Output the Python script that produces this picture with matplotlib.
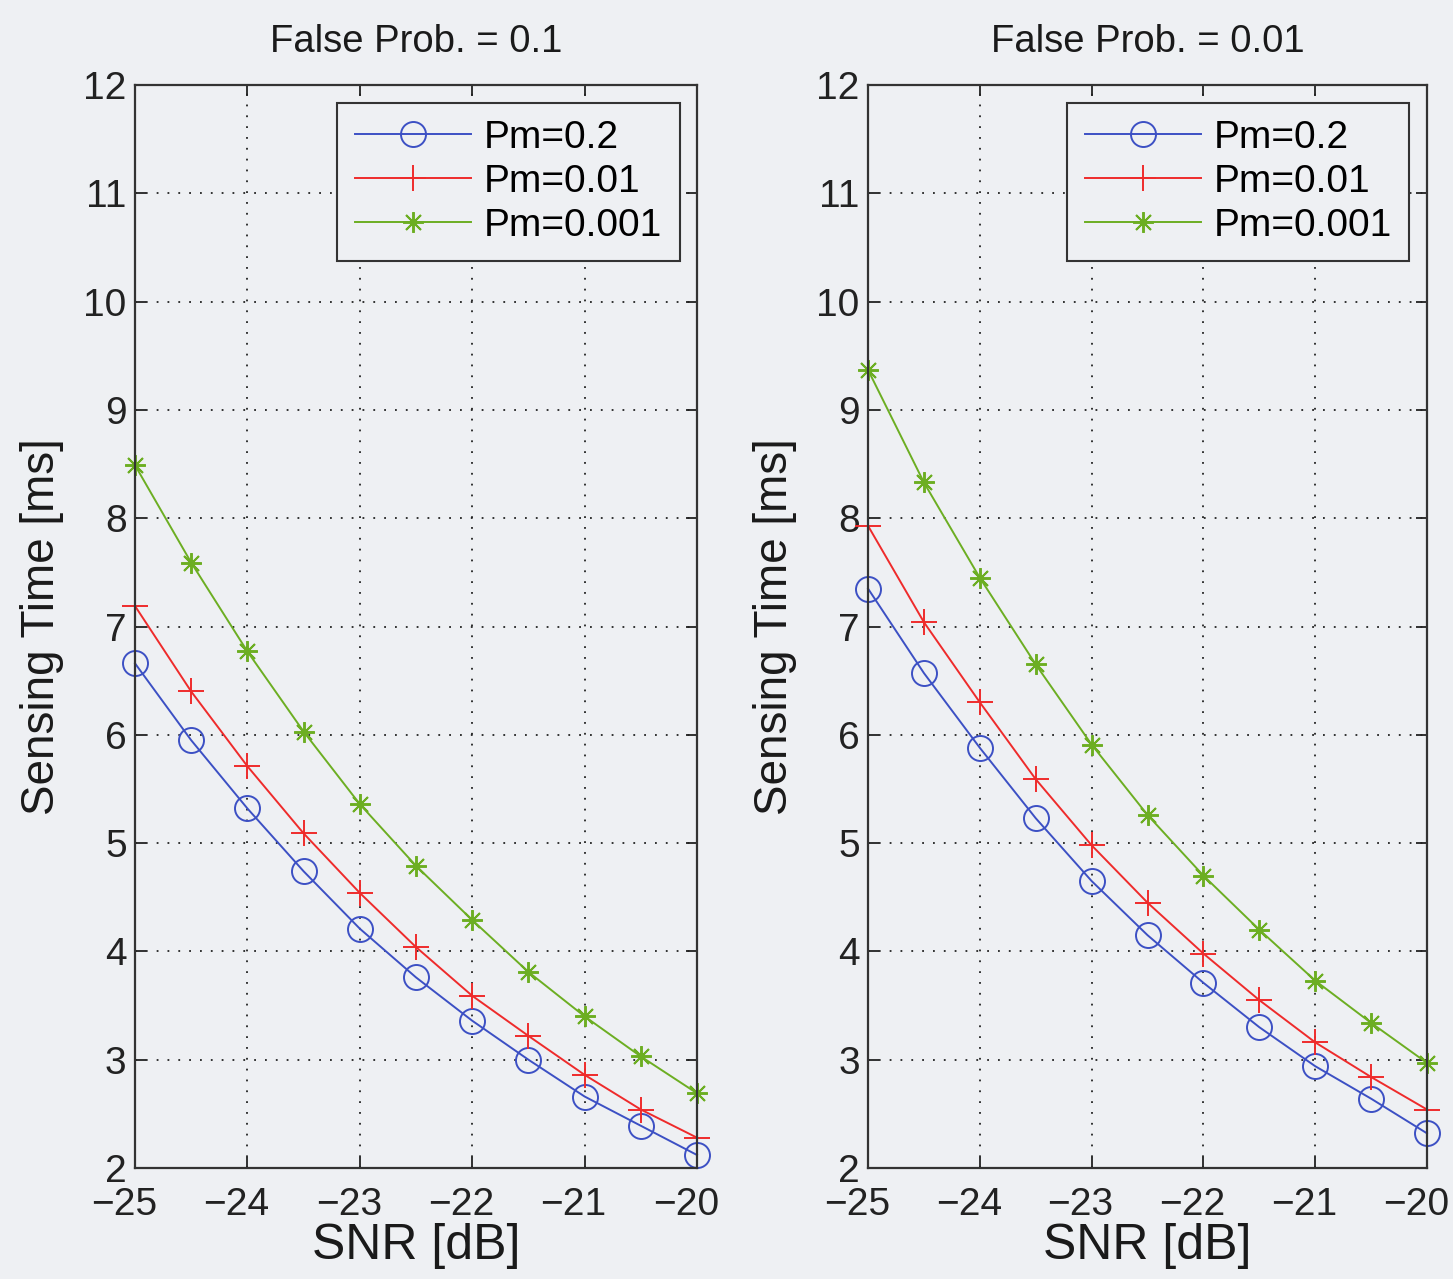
import matplotlib
matplotlib.use('Agg')
import matplotlib.pyplot as plt
import matplotlib.transforms as mtransforms

plt.rcParams['font.family'] = ['Liberation Sans', 'DejaVu Sans']

# SNR points [dB]
snr = [-25, -24.5, -24, -23.5, -23, -22.5, -22, -21.5, -21, -20.5, -20]

# False Prob. = 0.1
left_pm02 = [6.66, 5.95, 5.32, 4.74, 4.21, 3.76, 3.36, 3.00, 2.66, 2.39, 2.12]
left_pm001 = [7.19, 6.40, 5.71, 5.09, 4.54, 4.04, 3.59, 3.22, 2.86, 2.54, 2.28]
left_pm0001 = [8.49, 7.59, 6.77, 6.03, 5.36, 4.79, 4.29, 3.81, 3.40, 3.03, 2.69]

# False Prob. = 0.01
right_pm02 = [7.35, 6.57, 5.88, 5.23, 4.65, 4.15, 3.71, 3.30, 2.94, 2.64, 2.32]
right_pm001 = [7.93, 7.04, 6.30, 5.59, 4.98, 4.45, 3.98, 3.55, 3.16, 2.84, 2.54]
right_pm0001 = [9.37, 8.33, 7.45, 6.65, 5.91, 5.26, 4.70, 4.20, 3.73, 3.34, 2.97]

titles = ['False Prob. = 0.1', 'False Prob. = 0.01']
labels = ['Pm=0.2', 'Pm=0.01', 'Pm=0.001']
xticks = [-25, -24, -23, -22, -21, -20]
yticks = [2, 3, 4, 5, 6, 7, 8, 9, 10, 11, 12]

bg = '#eef0f3'
colors = ['#3c50c4', '#ee2b2b', '#6cae22']
markers = ['o', '+', (8, 2, 0)]   # MATLAB-style asterisk
msizes = [18, 19, 15]

fig = plt.figure(figsize=(14.53, 12.79), dpi=100, facecolor=bg)
ax1 = fig.add_axes([0.0929, 0.0868, 0.3868, 0.8467])
ax2 = fig.add_axes([0.5974, 0.0868, 0.3847, 0.8467])

panels = [(ax1, [left_pm02, left_pm001, left_pm0001]),
          (ax2, [right_pm02, right_pm001, right_pm0001])]

shift = mtransforms.ScaledTranslation(-11 / 100, 0, fig.dpi_scale_trans)

for i, (ax, series) in enumerate(panels):
    ax.set_facecolor(bg)
    for vals, c, m, ms, lab in zip(series, colors, markers, msizes, labels):
        ax.plot(snr, vals, color=c, marker=m, markersize=ms, markerfacecolor='none',
                markeredgecolor=c, markeredgewidth=1.4, lw=1.4, label=lab, clip_on=False)
    ax.set_xlim(-25, -20)
    ax.set_ylim(2, 12)
    ax.set_xticks(xticks)
    ax.set_yticks(yticks)
    ax.set_xticklabels(['\u2212%d' % abs(t) for t in xticks])
    ax.grid(True, color='#222222', linestyle=(0, (1, 5)), linewidth=1.3)
    ax.tick_params(direction='in', top=True, right=True, length=8, width=1.3,
                   labelsize=28, colors='#222222')
    ax.tick_params(axis='x', pad=14)
    ax.tick_params(axis='y', pad=6)
    for lbl in ax.get_xticklabels():
        lbl.set_transform(lbl.get_transform() + shift)
    for s in ax.spines.values():
        s.set_linewidth(1.6)
        s.set_color('#333333')
    ax.set_xlabel('SNR [dB]', fontsize=36, color='#1a1a1a', labelpad=0)
    ax.set_ylabel('Sensing Time [ms]', fontsize=33, color='#1a1a1a', labelpad=14)
    ax.set_title(titles[i], fontsize=27.5, color='#1a1a1a', pad=24)
    leg = ax.legend(loc='upper right', fontsize=28, handlelength=3.0,
                    borderaxespad=0.45, labelspacing=0.2, handletextpad=0.32,
                    borderpad=0.45, fancybox=False, framealpha=1, facecolor=bg,
                    edgecolor='#333333')
    leg.get_frame().set_linewidth(1.5)

fig.savefig('out.png', dpi=100, facecolor=bg)
